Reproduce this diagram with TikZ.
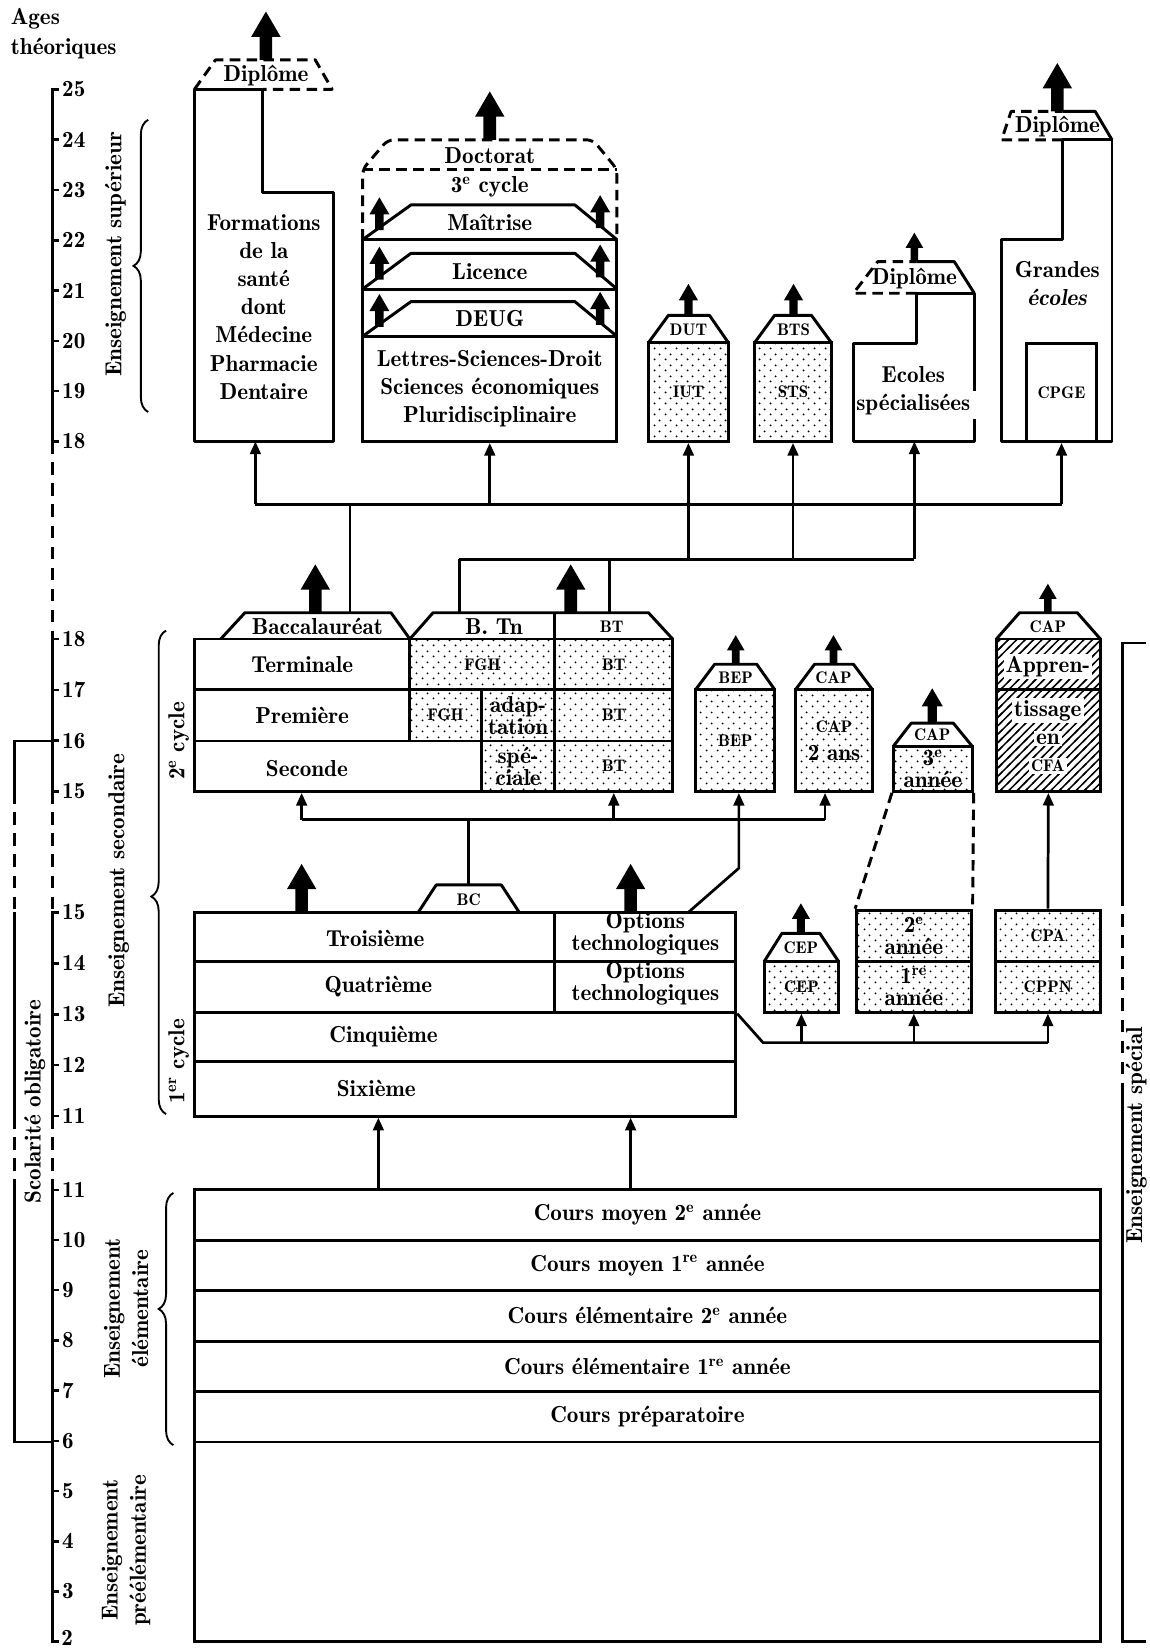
\documentclass[tikz,border=0pt]{standalone}
\usepackage{tikz}
\usetikzlibrary{arrows.meta, positioning, patterns, fit, decorations.pathreplacing}

\newcommand{\boxfont}{\fontseries{b}\fontsize{11}{13.4}\selectfont}
\newcommand{\tightfont}{\fontseries{b}\fontsize{11}{10.5}\selectfont}
\newcommand{\tagfont}{\fontseries{b}\fontsize{8}{9}\selectfont}

% trame de points et hachures
\pgfdeclarepatternformonly{sparsedots}{\pgfqpoint{0pt}{0pt}}{\pgfqpoint{5pt}{5pt}}{\pgfqpoint{5pt}{5pt}}{
  \pgfpathcircle{\pgfqpoint{1.25pt}{1.25pt}}{0.5pt}
  \pgfpathcircle{\pgfqpoint{3.75pt}{3.75pt}}{0.5pt}
  \pgfusepath{fill}
}
\pgfdeclarepatternformonly{widehatch}{\pgfqpoint{-1pt}{-1pt}}{\pgfqpoint{5pt}{5pt}}{\pgfqpoint{4pt}{4pt}}{
  \pgfsetlinewidth{0.7pt}
  \pgfpathmoveto{\pgfqpoint{-1pt}{-1pt}}
  \pgfpathlineto{\pgfqpoint{5pt}{5pt}}
  \pgfusepath{stroke}
}

\begin{document}
\begin{tikzpicture}[
    x=0.5pt, y=-0.5pt,
    wall/.style={line width=1.4pt, line join=round},
    dashwall/.style={wall, dash pattern=on 5pt off 3pt},
    cell/.style={draw, line width=1.4pt, inner sep=0pt},
    dotcell/.style={cell, pattern=sparsedots},
    hatchcell/.style={cell, pattern=widehatch},
    lbl/.style={font=\boxfont, align=center, inner sep=0pt},
    tag/.style={font=\tagfont, inner sep=0pt},
    agescale/.style={line width=1.2pt},
    gapscale/.style={agescale, dash pattern=on 6pt off 4pt},
    link/.style={line width=1.3pt},
    feed/.style={link, -{Triangle[length=6pt,width=5pt]}},
    sidebrace/.style={line width=0.9pt, decorate, decoration={brace, amplitude=7pt, #1}},
    uparrow/.pic={\fill (-6,0) -- (-6,-22) -- (-14,-22) -- (0,-46) -- (14,-22) -- (6,-22) -- (6,0) -- cycle;}
]
\useasboundingbox (0,0) rectangle (1094,1568);

% echelle des ages
\node[anchor=north west, align=left, inner sep=0pt, font=\fontseries{b}\fontsize{11}{14}\selectfont] (ages) at (10,8) {Ages\\théoriques};

\draw[agescale] (56,85) -- (50,85) -- (50,420) -- (56,420);
\foreach \a in {25,...,18}
  \draw[agescale] (50,{85+(25-\a)*47.86}) -- ++(6,0) node[lbl, anchor=west, xshift=1pt] (sup\a) {\a};
\draw[gapscale] (50,420) -- (50,608);
\draw[agescale] (56,608) -- (50,608) -- (50,753) -- (56,753);
\foreach \a in {18,...,15}
  \draw[agescale] (50,{608+(18-\a)*48.33}) -- ++(6,0) node[lbl, anchor=west, xshift=1pt] (lyc\a) {\a};
\draw[gapscale] (50,753) -- (50,868);
\draw[agescale] (56,868) -- (50,868) -- (50,1062) -- (56,1062);
\foreach \a in {15,...,11}
  \draw[agescale] (50,{868+(15-\a)*48.5}) -- ++(6,0) node[lbl, anchor=west, xshift=1pt] (col\a) {\a};
\draw[gapscale] (50,1062) -- (50,1132);
\draw[agescale] (56,1132) -- (50,1132) -- (50,1562) -- (56,1562);
\foreach \a in {11,...,3}
  \draw[agescale] (50,{1132+(11-\a)*47.78}) -- ++(6,0) node[lbl, anchor=west, xshift=1pt] (ele\a) {\a};
\node[lbl, anchor=base west] (ele2) at (58,1566) {2};

% scolarite obligatoire
\draw[agescale] (50,705) -- (14,705) -- (14,753);
\draw[gapscale] (14,753) -- (14,868);
\draw[agescale] (14,868) -- (14,1062);
\draw[gapscale] (14,1062) -- (14,1132);
\draw[agescale] (14,1132) -- (14,1372) -- (50,1372);
\node[lbl, rotate=90] (scol) at (33,1048) {Scolarité obligatoire};

% enseignement special
\draw[agescale] (1090,612) -- (1068,612) -- (1068,850);
\draw[gapscale] (1068,850) -- (1068,1040);
\draw[agescale] (1068,1040) -- (1068,1562) -- (1090,1562);
\node[lbl, rotate=90] (speci) at (1081,1080) {Enseignement spécial};

% accolades
\draw[sidebrace={aspect=0.5}] (141,392) -- (141,114);
\draw[sidebrace={aspect=0.45}] (158,1060) -- (158,600);
\draw[sidebrace={aspect=0.54}] (165,1375) -- (165,1135);
\node[lbl, rotate=90] (esup) at (110,242) {Enseignement supérieur};
\node[lbl, rotate=90] (esec) at (113,838) {Enseignement secondaire};
\node[lbl, rotate=90] (cyc2) at (170,705) {2\textsuperscript{e} cycle};
\node[lbl, rotate=90] (cyc1) at (170,1010) {1\textsuperscript{er} cycle};
\node[lbl, rotate=90] (eelem) at (120,1245) {Enseignement\\élémentaire};
\node[lbl, rotate=90] (epre) at (120,1475) {Enseignement\\préélémentaire};

% sante
\draw[wall] (250,85) -- (185,85) -- (185,420) -- (317,420) -- (317,183) -- (250,183) -- cycle;
\draw[dashwall] (185,85) -- (205,57) -- (300,57) -- (316,85) -- (250,85);
\node[lbl] (dip1) at (253,72) {Diplôme};
\pic at (253,57) {uparrow};
\node[lbl] (sante) at (251,292) {Formations\\de la\\santé\\dont\\Médecine\\Pharmacie\\Dentaire};
\coordinate (santeIn) at (243,420);

% universite
\draw[dashwall, rounded corners=3pt] (345,228) -- (345,161) -- (369,133) -- (564,133) -- (587,161) -- (587,228);
\draw[dashwall] (345,161) -- (587,161);
\node[cell, fit={(345,320) (587,420)}] (lsd) {};
\draw[wall] (345,320) -- (345,228) -- (587,228) -- (587,320);
\draw[wall] (345,275) -- (587,275);
\foreach \yb/\yt/\lab in {228/195/Maîtrise, 275/241/Licence, 320/287/DEUG} {
  \draw[wall] (345,\yb) -- (391,\yt) -- (547,\yt) -- (587,\yb);
  \node[lbl] (band\yb) at (466,{(\yb+\yt)/2}) {\lab};
  \pic[scale=0.68] at (361,\yb-9) {uparrow};
  \pic[scale=0.68] at (571,\yb-11) {uparrow};
}
\node[lbl] (doct) at (466,148) {Doctorat};
\node[lbl] (cyc3) at (466,178) {3\textsuperscript{e} cycle};
\pic at (466,133) {uparrow};
\node[lbl] (lsdtxt) at (lsd.center) {Lettres-Sciences-Droit\\Sciences économiques\\Pluridisciplinaire};

% IUT et STS
\node[dotcell, fit={(617,326) (693,420)}] (iut) {};
\draw[wall] (617,326) -- (636,300) -- (675,300) -- (693,326);
\node[tag] (dut) at (655,314) {DUT};
\node[tag] (iutl) at (iut.center) {IUT};
\pic[scale=0.65] at (655,300) {uparrow};
\node[dotcell, fit={(718,326) (791,420)}] (sts) {};
\draw[wall] (718,326) -- (737,300) -- (772,300) -- (791,326);
\node[tag] (bts) at (755,314) {BTS};
\node[tag] (stsl) at (sts.center) {STS};
\pic[scale=0.65] at (755,300) {uparrow};

% ecoles specialisees
\draw[wall] (927,372) -- (927,279) -- (872,279) -- (872,327) -- (812,327) -- (812,420) -- (927,420) -- (927,399);
\draw[dashwall] (872,279) -- (812,279) -- (835,249) -- (872,249);
\draw[wall] (872,249) -- (908,249) -- (927,279);
\node[lbl] (dip2) at (870,265) {Diplôme};
\pic[scale=0.6] at (870,249) {uparrow};
\node[lbl] (ecoles) at (869,372) {Ecoles\\spécialisées};
\coordinate (ecolesIn) at (870,420);

% grandes ecoles
\draw[wall] (953,420) -- (953,228) -- (1011,228) -- (1011,133) -- (1058,133) -- (1058,420) -- cycle;
\draw[dashwall] (1011,133) -- (953,133) -- (962,106) -- (1011,106);
\draw[wall] (1011,106) -- (1042,106) -- (1058,133);
\node[lbl] (dip3) at (1006,120) {Diplôme};
\pic at (1006,106) {uparrow};
\node[lbl] (ge) at (1006,270) {Grandes\\\textit{écoles}};
\node[cell, fit={(977,327) (1043,420)}] (cpge) {};
\node[tag] (cpgel) at (cpge.center) {CPGE};

% liaisons vers le superieur
\coordinate (hiW) at (243,480);
\coordinate (hiE) at (1010,480);
\coordinate (loW) at (437,532);
\coordinate (loE) at (870,532);
\coordinate (bacOut) at (333,583);
\coordinate (btnOut) at (437,583);
\coordinate (btOut) at (580,583);
\draw[link] (hiW) -- (hiE);
\draw[feed] (hiW) -- (santeIn);
\draw[feed] (lsd.south |- hiW) -- (lsd.south);
\draw[feed] (loE) -- (ecolesIn);
\draw[feed] (hiE) -- (cpge.south);
\draw[link] (loW) -- (loE);
\draw[feed] (iut.south |- loW) -- (iut.south);
\draw[feed] (sts.south |- loW) -- (sts.south);
\draw[link] (bacOut) -- (bacOut |- hiW);
\draw[link] (btnOut) -- (loW);
\draw[link] (btOut) -- (btOut |- loW);

% second cycle
\node[cell, fit={(185,608) (390,656)}] (term) {};
\node[cell, fit={(185,656) (390,705)}] (prem) {};
\node[cell, fit={(185,705) (458,753)}] (sec2) {};
\node[dotcell, fit={(390,608) (528,656)}] (fghT) {};
\node[dotcell, fit={(390,656) (458,705)}] (fghP) {};
\node[dotcell, fit={(458,656) (528,705)}] (adapt) {};
\node[dotcell, fit={(458,705) (528,753)}] (spe) {};
\node[dotcell, fit={(528,608) (640,656)}] (btT) {};
\node[dotcell, fit={(528,656) (640,705)}] (btP) {};
\node[dotcell, fit={(528,705) (640,753)}] (btS) {};
\node[lbl] (terml) at (term.center) {Terminale};
\node[lbl] (preml) at (prem.center) {Première};
\node[lbl] (secl) at (292,731) {Seconde};
\node[tag] (fghTl) at (fghT.center) {FGH};
\node[tag] (fghPl) at (fghP.center) {FGH};
\node[lbl, font=\tightfont] (adaptl) at (adapt.center) {adap-\\tation};
\node[lbl, font=\tightfont] (spel) at (spe.center) {spé-\\ciale};
\node[tag] (btTl) at (btT.center) {BT};
\node[tag] (btPl) at (btP.center) {BT};
\node[tag] (btSl) at (btS.center) {BT};

\draw[wall] (210,608) -- (233,583) -- (372,583) -- (390,608);
\draw[wall] (390,608) -- (412,583) -- (617,583) -- (640,608);
\draw[wall] (528,583) -- (528,608);
\node[lbl] (bac) at (302,596) {Baccalauréat};
\node[lbl] (btn) at (470,596) {B.~Tn};
\node[tag] (bt) at (582,596) {BT};
\pic at (300,583) {uparrow};
\pic at (543,583) {uparrow};

% BEP, CAP
\node[dotcell, fit={(662,656) (737,753)}] (bep) {};
\draw[wall] (662,656) -- (680,632) -- (720,632) -- (737,656);
\node[tag] (bepT) at (700,645) {BEP};
\node[tag] (bepl) at (bep.center) {BEP};
\pic[scale=0.6] at (700,632) {uparrow};

\node[dotcell, fit={(757,656) (830,753)}] (cap2) {};
\draw[wall] (757,656) -- (775,632) -- (812,632) -- (830,656);
\node[tag] (cap2T) at (793,645) {CAP};
\node[lbl] (cap2l) at (cap2.center) {{\tagfont CAP}\\2 ans};
\pic[scale=0.6] at (793,632) {uparrow};

\node[dotcell, fit={(850,710) (925,753)}] (cap3) {};
\draw[wall] (850,710) -- (867,688) -- (907,688) -- (925,710);
\node[tag] (cap3T) at (887,699) {CAP};
\node[lbl, font=\tightfont] (cap3l) at (cap3.center) {3\textsuperscript{e}\\année};
\pic[scale=0.72] at (887,688) {uparrow};

\node[hatchcell, fit={(948,608) (1047,753)}] (cfa) {};
\draw[wall] (948,656) -- (1047,656);
\draw[wall] (948,608) -- (970,583) -- (1025,583) -- (1047,608);
\node[tag] (cfaT) at (997,596) {CAP};
\pic[scale=0.6] at (997,583) {uparrow};
\node[lbl, fill=white, inner sep=1pt] (appr) at (997,634) {Appren-};
\node[lbl, fill=white, inner sep=1pt] (tiss) at (997,676) {tissage};
\node[lbl, fill=white, inner sep=1pt] (en) at (997,703) {en};
\node[tag, fill=white, inner sep=1pt] (cfal) at (997,729) {CFA};

% liaisons vers le second cycle
\coordinate (midW) at (287,780);
\coordinate (midE) at (785,780);
\coordinate (bcOut) at (446,842);
\coordinate (optOut) at (655,868);
\coordinate (optBend) at (703,826);
\draw[link] (midW) -- (midE);
\draw[feed] (midW) -- (midW |- sec2.south);
\draw[feed] (btS.south |- midW) -- (btS.south);
\draw[feed] (midE) -- (midE |- cap2.south);
\draw[link] (bcOut) -- (bcOut |- midW);
\draw[feed] (optOut) -- (optBend) -- (optBend |- bep.south);

% premier cycle
\node[cell, fit={(185,868) (528,915)}] (troi) {};
\node[cell, fit={(185,915) (528,963)}] (quat) {};
\node[cell, fit={(528,868) (700,915)}] (optT) {};
\node[cell, fit={(528,915) (700,963)}] (optQ) {};
\node[cell, fit={(185,963) (700,1010)}] (cinq) {};
\node[cell, fit={(185,1010) (700,1062)}] (six) {};
\node[lbl] (troil) at (357,893) {Troisième};
\node[lbl] (quatl) at (360,939) {Quatrième};
\node[lbl] (cinql) at (365,986) {Cinquième};
\node[lbl] (sixl) at (358,1036) {Sixième};
\node[lbl, font=\tightfont] (optTl) at (614,888) {Options\\technologiques};
\node[lbl, font=\tightfont] (optQl) at (614,936) {Options\\technologiques};
\draw[wall] (398,868) -- (415,842) -- (477,842) -- (494,868);
\node[tag] (bc) at (446,856) {BC};
\pic at (287,868) {uparrow};
\pic at (600,868) {uparrow};

% CEP, CPA, CPPN
\node[dotcell, fit={(727,915) (798,963)}] (cep) {};
\draw[wall] (727,915) -- (744,888) -- (780,888) -- (798,915);
\node[tag] (cepT) at (762,902) {CEP};
\node[tag] (cepl) at (cep.center) {CEP};
\pic[scale=0.62] at (762,888) {uparrow};
\node[dotcell, fit={(815,866) (924,915)}] (annee2) {};
\node[dotcell, fit={(815,915) (924,963)}] (annee1) {};
\node[lbl, font=\tightfont] (annee2l) at (annee2.center) {2\textsuperscript{e}\\année};
\node[lbl, font=\tightfont] (annee1l) at (annee1.center) {1\textsuperscript{re}\\année};
\node[dotcell, fit={(947,866) (1047,915)}] (cpa) {};
\node[dotcell, fit={(947,915) (1047,963)}] (cppn) {};
\node[tag] (cpal) at (cpa.center) {CPA};
\node[tag] (cppnl) at (cppn.center) {CPPN};
\draw[dashwall] (cap3.south west) -- (annee2.north west);
\draw[dashwall] (cap3.south east) -- (annee2.north east);
\draw[feed] (cpa.north) -- (cfa.south);

\coordinate (lowBend) at (726,992);
\coordinate (lowE) at (997,992);
\draw[link] (optQ.south east) -- (lowBend) -- (lowE);
\draw[feed] (cep.south |- lowBend) -- (cep.south);
\draw[feed] (annee1.south |- lowBend) -- (annee1.south);
\draw[feed] (lowE) -- (cppn.south);

% enseignement elementaire et preelementaire
\foreach \lab [count=\i from 0] in {{Cours moyen 2\textsuperscript{e} année}, {Cours moyen 1\textsuperscript{re} année}, {Cours élémentaire 2\textsuperscript{e} année}, {Cours élémentaire 1\textsuperscript{re} année}, {Cours préparatoire}} {
  \node[cell, fit={(185,{1132+\i*48}) (1047,{1180+\i*48})}] (ecole\i) {};
  \node[lbl] (ecolel\i) at (ecole\i.center) {\lab};
}
\node[cell, fit={(185,1372) (1047,1562)}] (mater) {};

\coordinate (primA) at (360,1132);
\coordinate (primB) at (600,1132);
\draw[feed] (primA) -- (primA |- six.south);
\draw[feed] (primB) -- (primB |- six.south);

\end{tikzpicture}
\end{document}
